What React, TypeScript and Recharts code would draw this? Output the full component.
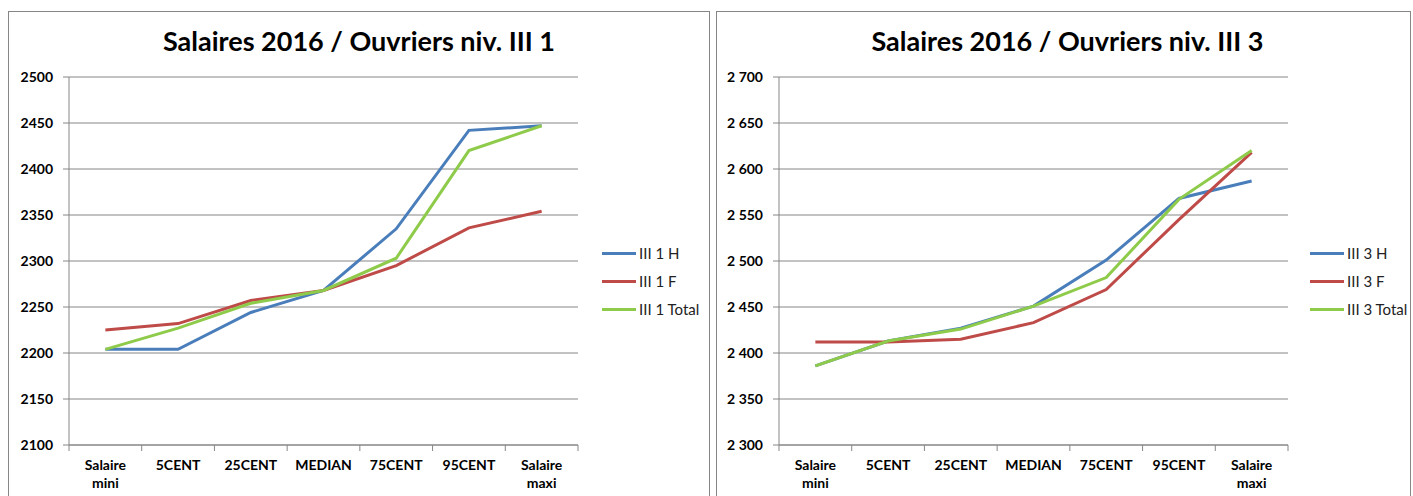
import React from 'react';
import { LineChart, Line, XAxis, YAxis, CartesianGrid, Legend } from 'recharts';

const categories = ['Salaire mini', '5CENT', '25CENT', 'MEDIAN', '75CENT', '95CENT', 'Salaire maxi'];

const names1 = ['III 1 H', 'III 1 F', 'III 1 Total'];
const h1 = [2204, 2204, 2244, 2268, 2335, 2442, 2447];
const f1 = [2225, 2232, 2257, 2268, 2295, 2336, 2354];
const t1 = [2204, 2227, 2254, 2268, 2303, 2420, 2447];
const ticks1 = [2100, 2150, 2200, 2250, 2300, 2350, 2400, 2450, 2500];

const names3 = ['III 3 H', 'III 3 F', 'III 3 Total'];
const h3 = [2386, 2413, 2427, 2451, 2501, 2568, 2587];
const f3 = [2412, 2412, 2415, 2433, 2469, 2545, 2618];
const t3 = [2386, 2413, 2426, 2451, 2482, 2567, 2620];
const ticks3 = [2300, 2350, 2400, 2450, 2500, 2550, 2600, 2650, 2700];

const title1 = 'Salaires 2016 / Ouvriers niv. III 1';
const title3 = 'Salaires 2016 / Ouvriers niv. III 3';

const colors = ['#4A7EBB', '#BE4B48', '#8FCB4A'];
const GRID = '#868686';
const FONT = 'Lato, "Open Sans", sans-serif';

const buildRows = (h: number[], f: number[], t: number[]) =>
  categories.map((c, i) => ({ cat: c, h: h[i], f: f[i], t: t[i] }));

const CatTick = (props: any) => {
  const { x, y, payload, width, index } = props;
  const band = width ? width / categories.length : (payload.offset || 0) * 2;
  const words = String(payload.value).split(' ');
  return (
    <g>
      <line x1={x - band / 2} x2={x - band / 2} y1={y} y2={y + 6} stroke={GRID} strokeWidth={1} />
      {index === categories.length - 1 && (
        <line x1={x + band / 2} x2={x + band / 2} y1={y} y2={y + 6} stroke={GRID} strokeWidth={1} />
      )}
      <text x={x} y={y + 25} textAnchor="middle" fontFamily={FONT} fontSize={14} fontWeight="bold" fill="#000">
        {words.map((w, i) => (
          <tspan key={i} x={x} dy={i === 0 ? 0 : 18}>
            {w}
          </tspan>
        ))}
      </text>
    </g>
  );
};

const makeLegend = (order: string[]) => (props: any) => {
  const items = [...(props.payload || [])].sort(
    (a: any, b: any) => order.indexOf(a.value) - order.indexOf(b.value)
  );
  return (
    <div>
      {items.map((p: any) => (
        <div key={p.value} style={{ display: 'flex', alignItems: 'center', height: 28 }}>
          <div style={{ width: 34, height: 3, background: p.color }} />
          <span style={{ marginLeft: 3, fontSize: 15, fontFamily: FONT, color: '#222', whiteSpace: 'nowrap' }}>
            {p.value}
          </span>
        </div>
      ))}
    </div>
  );
};

const spaceFmt = (v: number) => {
  const s = String(v);
  return s.length > 3 ? s.slice(0, s.length - 3) + '\u00a0' + s.slice(s.length - 3) : s;
};

type PanelProps = {
  left: number;
  width: number;
  title: string;
  titleShift: number;
  names: string[];
  rows: any[];
  ticks: number[];
  yWidth: number;
  rightMargin: number;
  legendLeft: number;
  fmt?: (v: number) => string;
};

const Panel = (p: PanelProps) => {
  const LegendContent = makeLegend(p.names);
  return (
    <div
      style={{
        position: 'absolute',
        left: p.left,
        top: 11,
        width: p.width,
        height: 500,
        borderLeft: `1px solid ${GRID}`,
        borderTop: `1px solid ${GRID}`,
        borderRight: `1px solid ${GRID}`,
        background: '#fff',
      }}
    >
      <div
        style={{
          position: 'absolute',
          left: p.titleShift,
          top: 15,
          width: p.width,
          textAlign: 'center',
          fontFamily: FONT,
          fontWeight: 'bold',
          fontSize: 27,
          lineHeight: '27px',
          color: '#000',
          whiteSpace: 'nowrap',
        }}
      >
        {p.title}
      </div>
      <LineChart width={p.width} height={484} data={p.rows} margin={{ top: 65, right: p.rightMargin, left: 0, bottom: 0 }}>
        <CartesianGrid vertical={false} stroke={GRID} strokeWidth={1} />
        <XAxis
          dataKey="cat"
          scale="band"
          height={51}
          interval={0}
          axisLine={{ stroke: GRID }}
          tickLine={false}
          tickSize={0}
          tickMargin={0}
          tick={<CatTick />}
        />
        <YAxis
          width={p.yWidth}
          domain={[p.ticks[0], p.ticks[p.ticks.length - 1]]}
          ticks={p.ticks}
          interval={0}
          axisLine={{ stroke: GRID }}
          tickLine={{ stroke: GRID }}
          tickSize={6}
          tickMargin={10}
          tickFormatter={p.fmt}
          tick={{ fontFamily: FONT, fontSize: 14, fontWeight: 'bold', fill: '#000' }}
        />
        <Legend
          layout="horizontal"
          align="center"
          verticalAlign="middle"
          wrapperStyle={{ left: p.legendLeft, top: 227, width: 'auto' }}
          content={<LegendContent />}
        />
        <Line name={p.names[0]} dataKey="h" type="linear" stroke={colors[0]} strokeWidth={3} dot={false} activeDot={false} isAnimationActive={false} />
        <Line name={p.names[1]} dataKey="f" type="linear" stroke={colors[1]} strokeWidth={3} dot={false} activeDot={false} isAnimationActive={false} />
        <Line name={p.names[2]} dataKey="t" type="linear" stroke={colors[2]} strokeWidth={3} dot={false} activeDot={false} isAnimationActive={false} />
      </LineChart>
    </div>
  );
};

export default function App() {
  return (
    <div style={{ position: 'absolute', left: 0, top: 0, width: 1413, height: 496, overflow: 'hidden', background: '#fff' }}>
      <Panel
        left={8}
        width={700}
        title={title1}
        titleShift={0}
        names={names1}
        rows={buildRows(h1, f1, t1)}
        ticks={ticks1}
        yWidth={60}
        rightMargin={131}
        legendLeft={593}
      />
      <Panel
        left={716}
        width={693}
        title={title3}
        titleShift={4}
        names={names3}
        rows={buildRows(h3, f3, t3)}
        ticks={ticks3}
        yWidth={62}
        rightMargin={122}
        legendLeft={593}
        fmt={spaceFmt}
      />
    </div>
  );
}
